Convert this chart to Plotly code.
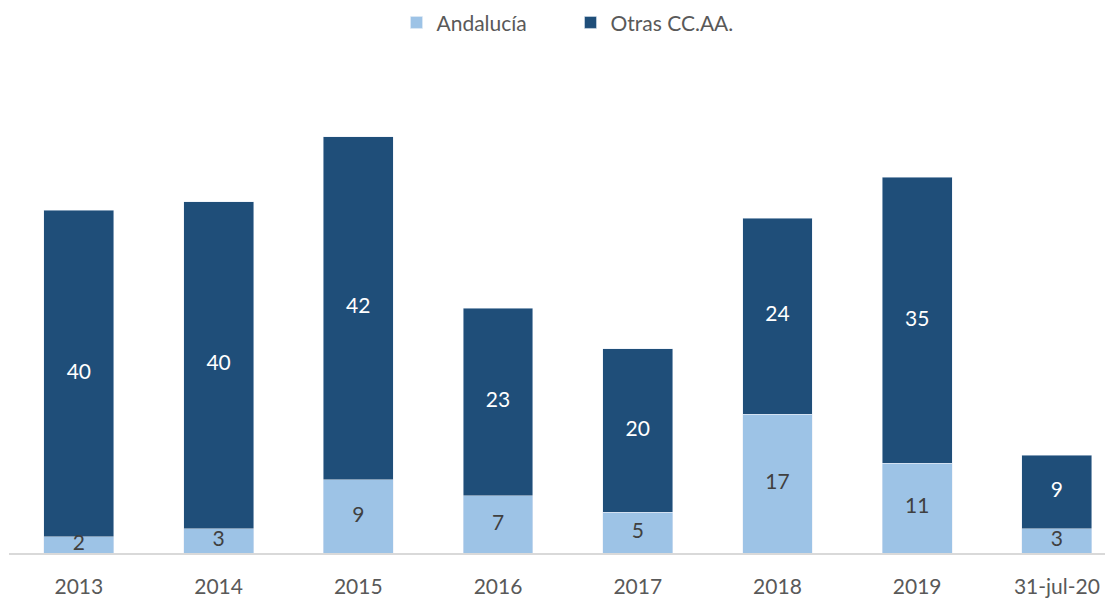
import plotly.graph_objects as go

categories = ["2013", "2014", "2015", "2016", "2017", "2018", "2019", "31-jul-20"]
andalucia = [2, 3, 9, 7, 5, 17, 11, 3]
otras = [40, 40, 42, 23, 20, 24, 35, 9]

LIGHT = "#9DC3E6"
DARK = "#1F4E79"
FONT = "Lato, 'Open Sans', sans-serif"

fig = go.Figure()
fig.add_trace(go.Bar(x=categories, y=andalucia, name="Andalucía", marker_color=LIGHT,
                     width=0.5, hoverinfo="skip"))
fig.add_trace(go.Bar(x=categories, y=otras, name="Otras CC.AA.", marker_color=DARK,
                     width=0.5, hoverinfo="skip"))

# data labels at segment midpoints
fig.add_trace(go.Scatter(x=categories, y=[a / 2 for a in andalucia], mode="text",
                         text=[str(a) for a in andalucia], showlegend=False,
                         textfont=dict(color="#404040", size=21, family=FONT), hoverinfo="skip"))
fig.add_trace(go.Scatter(x=categories, y=[a + o / 2 for a, o in zip(andalucia, otras)], mode="text",
                         text=[str(o) for o in otras], showlegend=False,
                         textfont=dict(color="white", size=21, family=FONT), hoverinfo="skip"))

fig.update_layout(
    barmode="stack",
    width=1105, height=592,
    margin=dict(l=1, r=3, t=55, b=47, autoexpand=False),
    plot_bgcolor="white", paper_bgcolor="white",
    font=dict(family=FONT, color="#595959"),
    legend=dict(orientation="h", x=0.51, xanchor="center", y=0.975, yref="container",
                yanchor="middle", traceorder="normal", entrywidth=129,
                font=dict(size=21, color="#595959")),
    xaxis=dict(type="category", range=[-0.5, 7.38], showline=True, linecolor="#D9D9D9",
               linewidth=1.5, ticks="", ticklabelstandoff=14,
               tickfont=dict(size=21, color="#595959")),
    yaxis=dict(range=[0, 60], visible=False, showgrid=False),
)

fig.write_html("out.html")
